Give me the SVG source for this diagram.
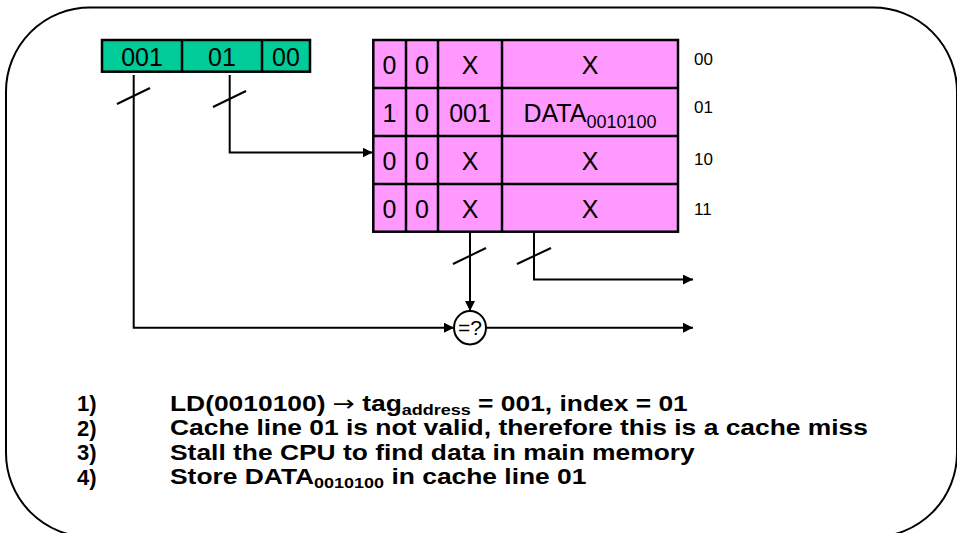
<svg xmlns="http://www.w3.org/2000/svg" width="957" height="533" viewBox="0 0 957 533">
<style>
.t{font-family:"Liberation Sans",Arial,sans-serif;fill:#000}
.c{font-size:25px;text-anchor:middle}
.lbl{font-size:17px}
.b{font-size:22px;font-weight:bold}
.ln{stroke:#000;stroke-width:2;fill:none}
.cell{stroke:#000;stroke-width:2.5}
</style>
<defs>
<marker id="ah" markerWidth="10" markerHeight="10" refX="10" refY="5" orient="auto" markerUnits="userSpaceOnUse">
<path d="M0,0 L10,5 L0,10 Z" fill="#000"/>
</marker>
</defs>
<rect x="6" y="7.5" width="951" height="529.5" rx="84" ry="84" fill="#fff" stroke="#000" stroke-width="2"/>

<g id="address">
<rect x="102" y="40" width="208" height="31.7" fill="#00CC99" stroke="#000" stroke-width="2.5"/>
<line x1="182" y1="40" x2="182" y2="71.7" class="cell"/>
<line x1="262" y1="40" x2="262" y2="71.7" class="cell"/>
<text class="t c" x="142" y="65.5">001</text>
<text class="t c" x="222" y="65.5">01</text>
<text class="t c" x="286" y="65.5">00</text>
</g>

<g id="cache">
<rect x="373.3" y="40" width="304.7" height="191.7" fill="#FF99FF" stroke="#000" stroke-width="2.5"/>
<line x1="373.3" y1="88" x2="678" y2="88" class="cell"/>
<line x1="373.3" y1="136" x2="678" y2="136" class="cell"/>
<line x1="373.3" y1="184" x2="678" y2="184" class="cell"/>
<line x1="406" y1="40" x2="406" y2="231.7" class="cell"/>
<line x1="438" y1="40" x2="438" y2="231.7" class="cell"/>
<line x1="502" y1="40" x2="502" y2="231.7" class="cell"/>
<text class="t c" x="389.5" y="74">0</text><text class="t c" x="422" y="74">0</text><text class="t c" x="470" y="74">X</text><text class="t c" x="590" y="74">X</text>
<text class="t c" x="389.5" y="122">1</text><text class="t c" x="422" y="122">0</text><text class="t c" x="470" y="122">001</text><text class="t c" x="590" y="122">DATA<tspan font-size="18" dy="6">0010100</tspan></text>
<text class="t c" x="389.5" y="170">0</text><text class="t c" x="422" y="170">0</text><text class="t c" x="470" y="170">X</text><text class="t c" x="590" y="170">X</text>
<text class="t c" x="389.5" y="218">0</text><text class="t c" x="422" y="218">0</text><text class="t c" x="470" y="218">X</text><text class="t c" x="590" y="218">X</text>
<text class="t lbl" x="694" y="65">00</text>
<text class="t lbl" x="694" y="113">01</text>
<text class="t lbl" x="694" y="165">10</text>
<text class="t lbl" x="694" y="215">11</text>
</g>

<g id="comparator">
<ellipse cx="470" cy="327.7" rx="16" ry="16.7" fill="#fff" stroke="#000" stroke-width="2"/>
<text class="t" x="470" y="335" font-size="21" text-anchor="middle">=?</text>
</g>

<g id="connectors">
<path class="ln" d="M133.7,75 V327.7 H454" marker-end="url(#ah)"/>
<path class="ln" d="M229.7,75 V152.5 H372.5" marker-end="url(#ah)"/>
<path class="ln" d="M470,232 V311" marker-end="url(#ah)"/>
<path class="ln" d="M534,232 V279.5 H693" marker-end="url(#ah)"/>
<path class="ln" d="M486,327.7 H693" marker-end="url(#ah)"/>
<line class="ln" x1="117" y1="104" x2="150" y2="88"/>
<line class="ln" x1="213" y1="107" x2="246" y2="91"/>
<line class="ln" x1="453" y1="264" x2="486" y2="248"/>
<line class="ln" x1="517" y1="264" x2="551" y2="248"/>
</g>

<g id="steps">
<text class="t b" x="77" y="411">1)</text>
<text class="t b" x="77" y="435.5">2)</text>
<text class="t b" x="77" y="460">3)</text>
<text class="t b" x="77" y="484.5">4)</text>
<g transform="translate(170,0) scale(1.2,1)">
<text class="t b" x="0" y="411">LD(0010100) <tspan font-family="DejaVu Sans" font-weight="normal">→</tspan> tag<tspan font-size="15" dy="4">address</tspan><tspan dy="-4"> = 001, index = 01</tspan></text>
<text class="t b" x="0" y="435.5">Cache line 01 is not valid, therefore this is a cache miss</text>
<text class="t b" x="0" y="460">Stall the CPU to find data in main memory</text>
<text class="t b" x="0" y="484.5">Store DATA<tspan font-size="15" dy="4">0010100</tspan><tspan dy="-4"> in cache line 01</tspan></text>
</g>
</g>
</svg>
